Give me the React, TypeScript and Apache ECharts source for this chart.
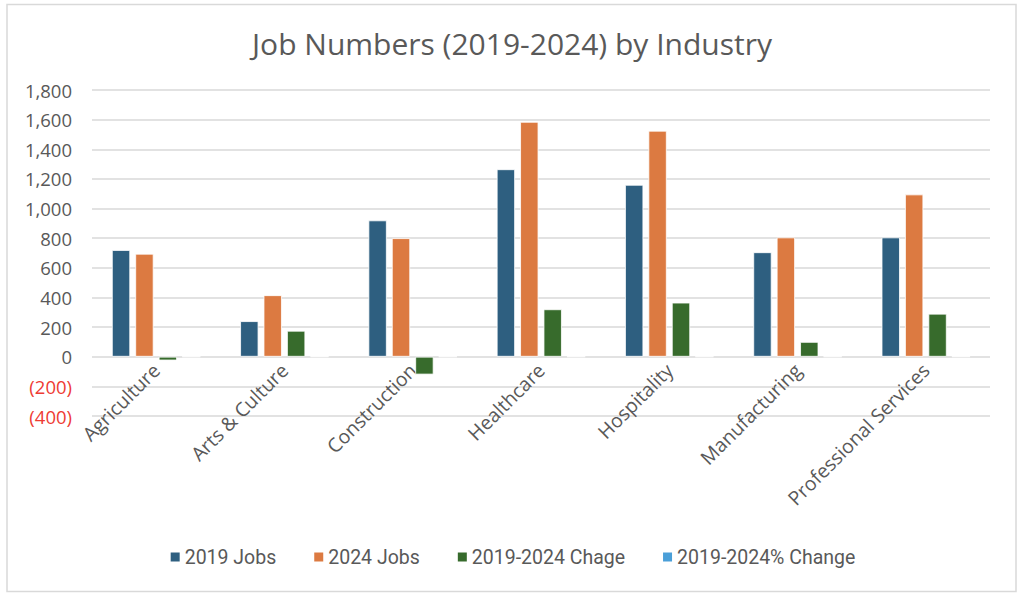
import React, { useEffect, useRef } from "react";
import * as echarts from "echarts";

const categories = ["Agriculture", "Arts & Culture", "Construction", "Healthcare", "Hospitality", "Manufacturing", "Professional Services"];
const jobs2019 = [720, 240, 920, 1265, 1160, 705, 805];
const jobs2024 = [695, 415, 800, 1585, 1525, 805, 1095];
const change = [-25, 175, -120, 320, 365, 100, 290];
const pctChange = [-0.035, 0.73, -0.13, 0.25, 0.31, 0.14, 0.36];
const seriesNames = ["2019 Jobs", "2024 Jobs", "2019-2024 Chage", "2019-2024% Change"];
const colors = ["#2e5f80", "#dc7a41", "#376b2c", "#4a9fd8"];

const fmt = (v: number) => {
  const s = Math.abs(v).toLocaleString("en-US");
  return v < 0 ? `(${s})` : s;
};

export default function App() {
  const ref = useRef<HTMLDivElement>(null);
  useEffect(() => {
    if (!ref.current) return;
    const chart = echarts.init(ref.current, null, { renderer: "svg" });
    const data = [jobs2019, jobs2024, change, pctChange];
    chart.setOption({
      animation: false,
      backgroundColor: "#ffffff",
      title: {
        text: "Job Numbers (2019-2024) by Industry",
        left: "center",
        top: 23,
        textStyle: { fontFamily: "Open Sans", fontSize: 30, fontWeight: "normal", color: "#595959" },
      },
      graphic: [
        {
          type: "rect",
          shape: { x: 7, y: 4.5, width: 1009, height: 587 },
          style: { fill: "none", stroke: "#d9d9d9", lineWidth: 1.5 },
          silent: true,
        },
      ],
      legend: {
        data: seriesNames,
        bottom: 31,
        left: "center",
        itemWidth: 11,
        itemHeight: 11,
        itemGap: 36,
        icon: "rect",
        textStyle: { fontFamily: "Roboto", fontSize: 19.5, color: "#595959", padding: [0, 0, 0, -1] },
      },
      grid: { left: 92, right: 34, top: 90, bottom: 187, containLabel: false },
      xAxis: {
        type: "category",
        data: categories,
        offset: -59.3,
        axisLine: { show: false, onZero: false },
        axisTick: { show: false },
        axisLabel: {
          rotate: 45,
          interval: 0,
          margin: 10,
          fontFamily: "Open Sans",
          fontSize: 19.5,
          color: "#595959",
        },
      },
      yAxis: {
        type: "value",
        min: -400,
        max: 1800,
        interval: 200,
        axisLine: { show: false },
        axisTick: { show: false },
        splitLine: { lineStyle: { color: "#d9d9d9", width: 1.5 } },
        axisLabel: {
          margin: 20,
          fontFamily: "Open Sans",
          fontSize: 18.5,
          formatter: (v: number) => fmt(v),
          color: (v: any) => (Number(v) < 0 ? "#ee3b33" : "#595959"),
        },
      },
      series: seriesNames.map((name, i) => ({
        name,
        type: "bar",
        data: data[i],
        barGap: "28%",
        barCategoryGap: "31%",
        itemStyle: { color: colors[i], borderColor: "#ffffff", borderWidth: 0.8 },
      })),
    });
    return () => chart.dispose();
  }, []);
  return <div ref={ref} style={{ position: "absolute", left: 0, top: 0, width: 1024, height: 603 }} />;
}
